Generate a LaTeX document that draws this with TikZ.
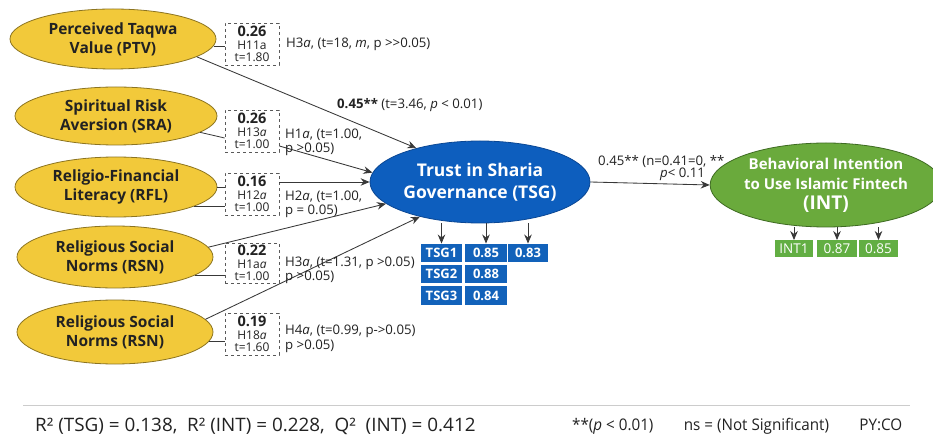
\documentclass[tikz,border=0pt]{standalone}
\usepackage{fontspec}
\usepackage{graphicx}
\setmainfont{Open Sans}
\usetikzlibrary{arrows.meta,shapes.geometric,calc}
\definecolor{yel}{HTML}{F2C93A}
\definecolor{yelb}{HTML}{8C7420}
\definecolor{tblue}{HTML}{0D5EBE}
\definecolor{tblueb}{HTML}{0A4794}
\definecolor{igreen}{HTML}{6AAA3C}
\definecolor{igreenb}{HTML}{3E6B22}
\definecolor{ink}{HTML}{222222}
\definecolor{boxblue}{HTML}{1262BA}
\definecolor{boxgreen}{HTML}{62AE43}
\begin{document}
\begin{tikzpicture}[x=1pt,y=-1pt,
  yell/.style={ellipse, draw=yelb, line width=0.8pt, fill=yel, inner sep=0pt, align=center, text=ink,
     font=\bfseries\fontsize{15.5}{19}\selectfont},
  bell/.style={ellipse, draw=tblueb, line width=0.8pt, fill=tblue, inner sep=0pt, align=center, text=white,
     font=\bfseries\fontsize{17.5}{22}\selectfont},
  gell/.style={ellipse, draw=igreenb, line width=0.8pt, fill=igreen, inner sep=0pt, align=center, text=white,
     font=\bfseries\fontsize{15}{20}\selectfont},
  dbox/.style={draw=gray!70!black, dashed, line width=0.7pt, minimum width=54pt, minimum height=42pt,
     inner sep=0pt, align=center, text=ink, font=\fontsize{12}{12.5}\selectfont},
  lab/.style={anchor=base west, inner sep=0pt, text=ink, font=\fontsize{13.2}{14}\selectfont},
  tbox/.style={fill=boxblue, text=white, inner sep=0pt, minimum height=18.5pt, font=\bfseries\fontsize{13}{13}\selectfont},
  gbox/.style={fill=boxgreen, text=white, inner sep=0pt, minimum height=16.5pt, font=\fontsize{13.5}{13.5}\selectfont},
  arr/.style={draw=ink!90, line width=0.85pt, -{Stealth[length=9pt,width=7.5pt]}},
  tick/.style={draw=ink!90, line width=0.8pt}]
\useasboundingbox (0,0) rectangle (933,435);
\fill[white] (0,0) rectangle (933,435);

% source constructs
\node[yell, minimum width=206pt, minimum height=60pt] (ptv) at (113,39) {Perceived Taqwa\\Value (PTV)};
\node[yell, minimum width=202pt, minimum height=58pt] (sra) at (116,116) {Spiritual Risk\\Aversion (SRA)};
\node[yell, minimum width=202pt, minimum height=60pt] (rfl) at (116,187) {Religio-Financial\\Literacy (RFL)};
\node[yell, minimum width=196pt, minimum height=62pt] (rsn1) at (115,257) {Religious Social\\Norms (RSN)};
\node[yell, minimum width=196pt, minimum height=64pt] (rsn2) at (115,332) {Religious Social\\Norms (RSN)};

% dashed boxes
\node[dbox] (ptvbox) at (252,44) {{\bfseries\fontsize{14.5}{14}\selectfont 0.26}\\H11a\\t=1.80};
\node[dbox] (srabox) at (252,131) {{\bfseries\fontsize{14.5}{14}\selectfont 0.26}\\H13\textit{a}\\t=1.00};
\node[dbox] (rflbox) at (252,194) {{\bfseries\fontsize{14.5}{14}\selectfont 0.16}\\H12\textit{a}\\t=1.00};
\node[dbox, minimum height=40pt] (rsn1box) at (252,263) {{\bfseries\fontsize{14.5}{14}\selectfont 0.22}\\H1a\textit{a}\\t=1.00};
\node[dbox] (rsn2box) at (252,334) {{\bfseries\fontsize{14.5}{14}\selectfont 0.19}\\H18\textit{a}\\t=1.60};

% mediator and outcome
\node[bell, minimum width=220pt, minimum height=82pt] (tsg) at (480,182) {Trust in Sharia\\Governance (TSG)};
\node[gell, minimum width=212pt, minimum height=84pt] (int) at (826,185)
  {Behavioral Intention\\to Use Islamic Fintech\\{\fontsize{19}{19}\selectfont (INT)}};

% ticks from ellipses to boxes
\draw[tick] (ptv.-4) -- (ptvbox.west |- ptv.-4);
\draw[tick] (sra.-11) -- ($(srabox.west)+(0,7)$);
\draw[tick] (rfl.east) -- (rflbox.west |- rfl.east);
\draw[tick] (rfl.-14) -- (rflbox.west |- rfl.-14);
\draw[tick] (rsn1.-13) -- (rsn1box.west |- rsn1.-13);
\draw[tick] (rsn2.-6) -- (rsn2box.west |- rsn2.-6);

% structural paths
\draw[arr] (ptv.-12) -- (tsg.152);
\draw[arr] ($(srabox.east)+(0,15)$) -- (tsg.175);
\draw[arr] (rflbox.east |- tsg.west) -- (tsg.west);
\draw[arr] (rsn1.6) -- (tsg.193);
\draw[arr] (rsn2.8) -- (tsg.210);
\draw[arr] (tsg.east) -- (int.west);

% path labels
\node[lab] (l1) at (286,48) {H3\textit{a}, (t=18, \textit{m}, p >{}>0.05)};
\node[lab] (l2) at (337,109) {\textbf{0.45**} (t=3.46, \textit{p} < 0.01)};
\node[lab] (l3) at (285,139) {H1\textit{a}, (t=1.00,};
\node[lab] (l3b) at (285,153) {p >0.05)};
\node[lab] (l4) at (285,201) {H2\textit{a}, (t=1.00,};
\node[lab] (l4b) at (285,215) {p = 0.05)};
\node[lab] (l5) at (285,266) {H3\textit{a}, (t=1.31, p >0.05)};
\node[lab] (l5b) at (285,280) {p >0.05)};
\node[lab] (l6) at (285,334) {H4\textit{a}, (t=0.99, p->0.05)};
\node[lab] (l6b) at (285,349) {p >0.05)};
\node[lab] (l7) at (598,166) {0.45** (n=0.41=0, **};
\node[lab] (l7b) at (660,178) {\textit{p}< 0.11};

% TSG indicators
\node[tbox, minimum width=41pt] (t1) at (441.5,253) {TSG1};
\node[tbox, minimum width=42pt] (t1a) at (486,253) {0.85};
\node[tbox, minimum width=40pt] (t1b) at (528,253) {0.83};
\node[tbox, minimum width=41pt] (t2) at (441.5,274) {TSG2};
\node[tbox, minimum width=42pt] (t2a) at (486,274) {0.88};
\node[tbox, minimum width=41pt] (t3) at (441.5,295.5) {TSG3};
\node[tbox, minimum width=42pt] (t3a) at (486,295.5) {0.84};
\draw[arr] (t1.north |- tsg.south) -- (t1.north);
\draw[arr] (t1a.north |- tsg.south) -- (t1a.north);
\draw[arr] (t1b.north |- tsg.south) -- (t1b.north);

% INT indicators
\node[gbox, minimum width=38pt] (i1) at (794,248.5) {INT1};
\node[gbox, minimum width=40pt] (i2) at (837,248.5) {0.87};
\node[gbox, minimum width=39pt] (i3) at (878.5,248.5) {0.85};
\draw[arr] (i1.north |- int.south) -- (i1.north);
\draw[arr] (i2.north |- int.south) -- (i2.north);
\draw[arr] (i3.north |- int.south) -- (i3.north);

% footer
\coordinate (fl) at (23,405);
\coordinate (fr) at (910,405);
\draw[gray!40, line width=0.8pt] (fl) -- (fr);
\node[anchor=base west, inner sep=0pt, text=ink, font=\fontsize{18.5}{19}\selectfont] (fa) at (35,431)
  {\scalebox{1.02}[1]{R² (TSG) = 0.138,\ \ R² (INT) = 0.228,\ \ Q²\ \ (INT) = 0.412}};
\node[anchor=base west, inner sep=0pt, text=ink, font=\fontsize{16}{16}\selectfont] (fb) at (572,430)
  {\scalebox{0.95}[1]{**(\textit{p} < 0.01)\quad\quad ns = (Not Significant)\quad\quad PY:CO}};
\end{tikzpicture}
\end{document}
